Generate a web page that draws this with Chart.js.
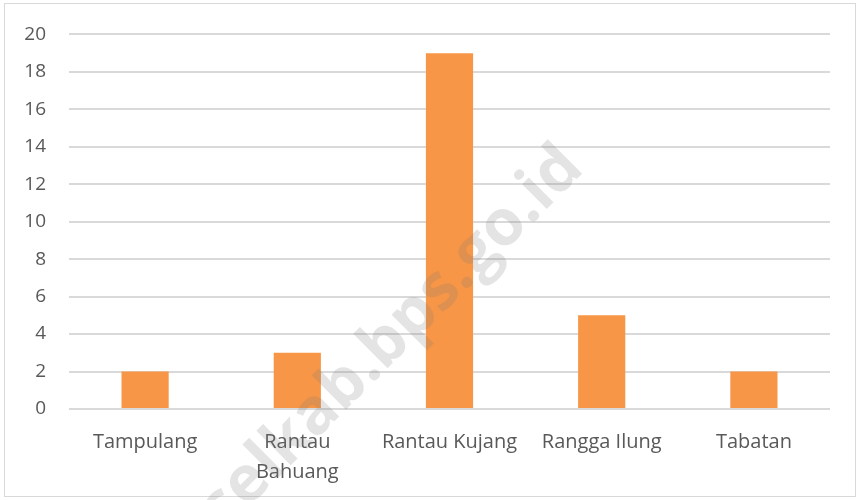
<!DOCTYPE html>
<html><head><meta charset="utf-8">
<script src="https://cdn.jsdelivr.net/npm/chart.js@4.4.1/dist/chart.umd.min.js"></script>
<style>html,body{margin:0;padding:0;background:#fff}#wrap{width:859px;height:500px;position:relative}</style>
</head><body><div id="wrap"><canvas id="c" width="859" height="500"></canvas></div>
<script>
const categories = [['Tampulang'], ['Rantau', 'Bahuang'], ['Rantau Kujang'], ['Rangga Ilung'], ['Tabatan']];
const values = [2, 3, 19, 5, 2];
const yTicks = [0, 2, 4, 6, 8, 10, 12, 14, 16, 18, 20];
const watermark = 'selkab.bps.go.id';

const decor = {
  id: 'decor',
  beforeDraw(chart) {
    const ctx = chart.ctx;
    ctx.save();
    ctx.fillStyle = '#fff';
    ctx.fillRect(0, 0, chart.width, chart.height);
    ctx.strokeStyle = '#d9d9d9';
    ctx.lineWidth = 1;
    ctx.strokeRect(4.5, 3.5, 851, 493);
    ctx.restore();
  },
  afterDraw(chart) {
    const ctx = chart.ctx;
    ctx.save();
    ctx.translate(392, 338);
    ctx.rotate(-Math.PI / 4);
    ctx.font = 'bold 64px "Open Sans", sans-serif';
    ctx.fillStyle = 'rgba(120,120,120,0.2)';
    ctx.textAlign = 'center';
    ctx.textBaseline = 'middle';
    ctx.fillText(watermark, 0, 0);
    ctx.restore();
  }
};

new Chart(document.getElementById('c'), {
  type: 'bar',
  data: {
    labels: categories,
    datasets: [{
      data: values,
      backgroundColor: '#F79646',
      barPercentage: 0.31,
      categoryPercentage: 1.0
    }]
  },
  options: {
    responsive: false,
    animation: false,
    layout: { padding: { top: 26, right: 29, left: 0, bottom: 0 } },
    plugins: { legend: { display: false }, tooltip: { enabled: false } },
    scales: {
      x: {
        grid: { display: false, drawTicks: false },
        border: { display: false },
        ticks: { color: '#595959', font: { family: '"Open Sans"', size: 20, lineHeight: 1.5 }, padding: 18, maxRotation: 0, autoSkip: false },
        afterFit(s) { s.height = 91; }
      },
      y: {
        min: 0, max: 20,
        afterBuildTicks(s) { s.ticks = yTicks.map(v => ({ value: v })); },
        grid: { color: '#d9d9d9', lineWidth: 2, drawTicks: false },
        border: { display: false },
        ticks: { color: '#595959', font: { family: '"Open Sans"', size: 19 }, padding: 23 },
        afterFit(s) { s.width = 69; }
      }
    }
  },
  plugins: [decor]
});
</script></body></html>
